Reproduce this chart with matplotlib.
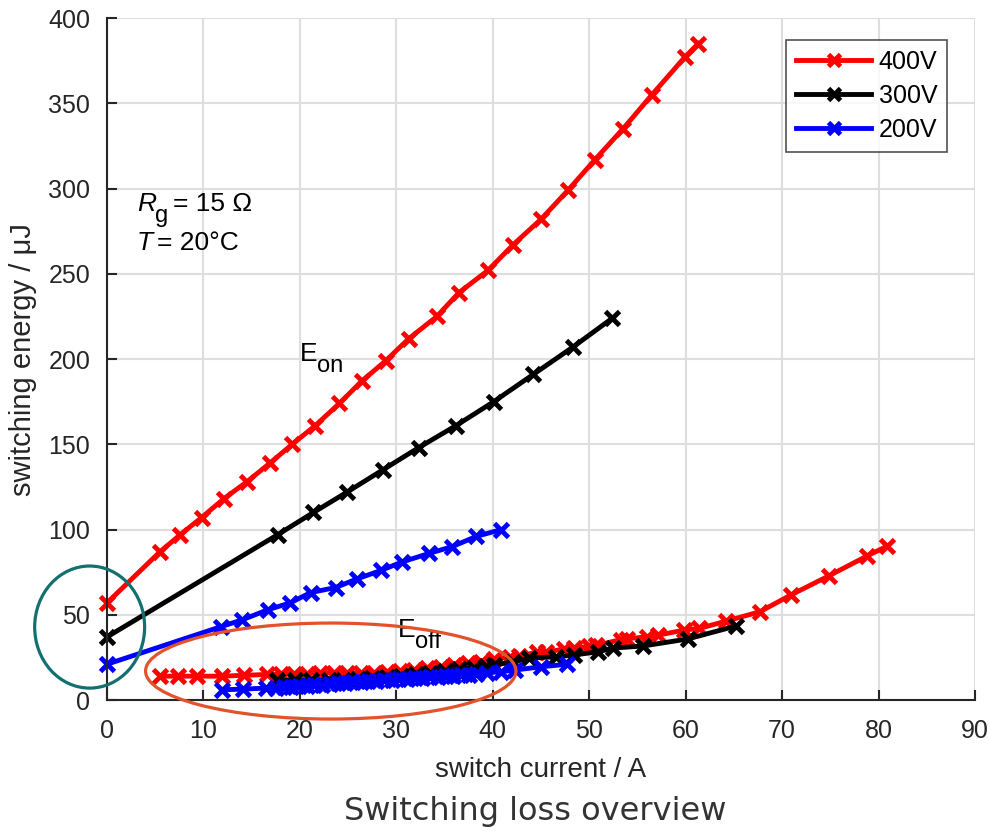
import matplotlib
matplotlib.use("Agg")
import matplotlib.pyplot as plt
from matplotlib.patches import Ellipse
from matplotlib.transforms import offset_copy

plt.rcParams['font.family'] = ['Liberation Sans', 'DejaVu Sans']

# E_on curves
eon_400_x = [0, 5.5, 7.6, 9.8, 12.1, 14.5, 16.9, 19.2, 21.6, 24.1, 26.4, 28.9, 31.3, 34.2,
             36.5, 39.5, 42.1, 45.0, 47.8, 50.6, 53.5, 56.5, 59.9, 61.3]
eon_400_y = [57, 87, 97, 107, 118, 128, 139, 150, 161, 174, 187, 199, 212, 225,
             239, 252, 267, 282, 299, 317, 335, 355, 377, 385]
eon_300_x = [0, 17.7, 21.4, 24.9, 28.6, 32.3, 36.2, 40.1, 44.2, 48.3, 52.4]
eon_300_y = [37, 97, 110, 122, 135, 148, 161, 175, 191, 207, 224]
eon_200_x = [0, 11.8, 14.0, 16.7, 19.0, 21.1, 23.7, 25.9, 28.4, 30.6, 33.4, 35.8, 38.3, 40.9]
eon_200_y = [21, 43, 47, 53, 57, 63, 66, 71, 76, 81, 86, 90, 96, 100]

# E_off curves
eoff_400_x = [5.5, 7.4, 9.3, 11.9, 14.2, 16.6, 18.0, 19.4, 20.7, 22.1, 23.5, 24.9, 26.3, 27.7,
              29.0, 30.4, 31.8, 33.2, 34.6, 36.0, 37.4, 38.8, 40.1, 41.8, 42.7, 44.6, 45.5,
              47.4, 48.4, 50.0, 50.7, 53.3, 53.9, 56.0, 57.1, 59.8, 61.4, 64.2, 67.7, 70.9,
              74.9, 78.8, 80.9]
eoff_400_y = [14, 14, 14, 14, 14.5, 15, 15, 15.5, 15.5, 16, 16, 16, 16, 16,
              16.5, 17, 17.5, 18.5, 19.5, 20.5, 21.5, 22.5, 24, 25.4, 26, 28, 28,
              30, 30.5, 31.5, 32, 35.5, 36, 37, 38, 41, 42, 46.3, 51.8, 61.6,
              73, 84.5, 90.3]
eoff_300_x = [17.6, 19.5, 21.2, 23.0, 24.5, 26.0, 27.5, 29.0, 30.5, 32.0, 33.5, 35.0, 36.5,
              38.0, 39.3, 40.1, 42.1, 43.8, 46.6, 48.4, 50.9, 52.5, 55.6, 60.2, 65.2]
eoff_300_y = [11.7, 11.5, 11.5, 12, 12, 12.5, 13, 13.5, 14, 15, 16, 17, 18,
              19, 20, 20.5, 22.4, 24.6, 25.4, 26.4, 28.3, 30.5, 31.7, 35.8, 43.4]
eoff_200_x = [11.9, 14.1, 16.5, 17.5, 18.3, 19.1, 19.9, 20.7, 21.5, 22.3, 23.1, 23.9, 24.7,
              25.5, 26.3, 27.1, 27.9, 28.7, 29.5, 30.3, 31.1, 31.9, 32.7, 33.5, 34.3, 35.1,
              35.9, 36.7, 37.5, 38.3, 39.4, 40.8, 42.3, 45.0, 47.7]
eoff_200_y = [6, 6.4, 7, 7.3, 7.6, 7.9, 8.2, 8.5, 8.8, 9.1, 9.4, 9.7, 10,
              10.3, 10.6, 10.9, 11.2, 11.5, 11.8, 12.1, 12.4, 12.7, 13, 13.3, 13.6, 13.9,
              14.2, 14.5, 14.8, 15.1, 16, 16.6, 17.6, 19.5, 21]

fig = plt.figure(figsize=(9.89, 8.31), dpi=100)
ax = fig.add_axes([0.1082, 0.1576, 0.8777, 0.8207])

style = dict(marker='x', markersize=10, markeredgewidth=3.5, linewidth=3.5, clip_on=False)

ax.plot(eon_400_x, eon_400_y, color='#ff0000', label='400V', **style)
ax.plot(eon_300_x, eon_300_y, color='black', label='300V', **style)
ax.plot(eon_200_x, eon_200_y, color='#0000ff', label='200V', **style)
ax.plot(eoff_400_x, eoff_400_y, color='#ff0000', **style)
ax.plot(eoff_300_x, eoff_300_y, color='black', **style)
ax.plot(eoff_200_x, eoff_200_y, color='#0000ff', **style)

ax.set_xlim(0, 90)
ax.set_ylim(0, 400)
ax.set_xticks(range(0, 91, 10))
ax.set_yticks(range(0, 401, 50))
ax.grid(True, color='#dedede', linewidth=1.5)
ax.set_axisbelow(True)
for s in ['top', 'right']:
    ax.spines[s].set_visible(False)
for s in ['left', 'bottom']:
    ax.spines[s].set_color('#262626')
    ax.spines[s].set_linewidth(1.5)
ax.tick_params(direction='in', length=7, width=1.5, labelsize=18, color='#262626',
               labelcolor='#262626')
ax.tick_params(axis='y', pad=12)
ax.tick_params(axis='x', pad=14)

ax.set_xlabel('switch current / A', fontsize=20, labelpad=10, color='#262626')
ax.set_ylabel('switching energy / μJ', fontsize=21, labelpad=8, color='#262626')

# annotations: big subscripts like the original
def sub_text(x, y, main, sub, size=19, dx=0, style='normal'):
    ax.text(x, y, main, fontsize=size, style=style, va='baseline')
    tr = offset_copy(ax.transData, fig=fig, x=dx, y=-8, units='points')
    ax.text(x, y, sub, fontsize=size - 2, va='baseline', transform=tr)

sub_text(3.1, 287, 'R', 'g', dx=13, style='italic')
ax.text(6.8, 287, '= 15 Ω', fontsize=19, va='baseline')
ax.text(3.1, 264, 'T', fontsize=19, style='italic', va='baseline')
ax.text(5.2, 264, '= 20°C', fontsize=19, va='baseline')
sub_text(20.0, 199, 'E', 'on', dx=12)
sub_text(30.2, 37, 'E', 'off', dx=12)

# highlight ellipses
ax.add_patch(Ellipse((-1.8, 42.8), 11.4, 71.6, fill=False, edgecolor='#13706f',
                     linewidth=2.3, clip_on=False, zorder=5))
ax.add_patch(Ellipse((23.2, 17), 38.4, 56.3, fill=False, edgecolor='#e2532b',
                     linewidth=2.3, clip_on=False, zorder=5))

leg = ax.legend(loc='upper right', bbox_to_anchor=(0.968, 0.968), fontsize=18, frameon=True,
                fancybox=False, edgecolor='#262626', handlelength=3.0, borderpad=0.4,
                labelspacing=0.4, handletextpad=0.3, markerscale=0.8, borderaxespad=0)
leg.get_frame().set_linewidth(1.2)

fig.text(0.541, 0.013, 'Switching loss overview', ha='center', fontsize=23, color='#333333',
         family='DejaVu Sans')

fig.savefig('out.png', dpi=100)
